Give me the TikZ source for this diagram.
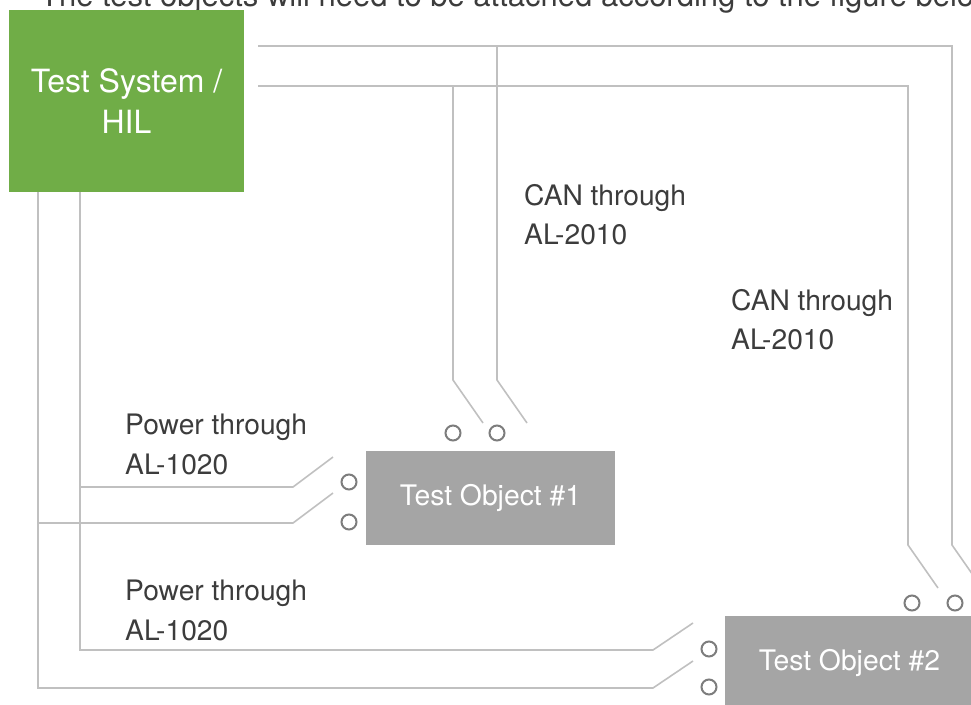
\documentclass[tikz,border=0pt]{standalone}
\usepackage{fontspec}
\setmainfont{TeX Gyre Heros}
\usepackage{xcolor}
\definecolor{Col1}{RGB}{112,173,71}
\definecolor{Col2}{RGB}{165,165,165}
\definecolor{Col3}{RGB}{192,192,192}
\definecolor{Col4}{RGB}{125,125,125}
\definecolor{Col5}{RGB}{60,60,60}
\usepackage{tikz}
\tikzstyle{Box}=[rectangle,inner sep=0pt,text=white,align=center,
font=\fontsize{28.3}{41}\selectfont]
\tikzstyle{Wire}=[draw=Col3,line width=1.6pt,line join=miter]
\tikzstyle{Socket}=[circle,draw=Col4,line width=2pt,inner sep=0pt,
minimum size=15pt]
\tikzstyle{LabelST}=[inner sep=0pt,text=Col5,align=left,anchor=north west,
font=\fontsize{28.2}{39.5}\selectfont]

\begin{document}
\begin{tikzpicture}[x=1pt,y=-1pt]
    \useasboundingbox(0,0)rectangle(971,704);
        \node[LabelST,anchor=base west,font=\fontsize{31}{36}\selectfont](title)at(40,6)
            {The test objects will need to be attached according to the figure below};
        \node[Box,fill=Col1,minimum width=235pt,minimum height=182pt,
            font=\fontsize{32}{41}\selectfont](sys)at(126.5,101){Test System /\\HIL};
        \node[Box,fill=Col2,minimum width=249pt,minimum height=94pt](obj1)at(490.5,498)
            {Test Object \#1};
        \node[Box,fill=Col2,minimum width=249pt,minimum height=94pt](obj2)at(849.5,663)
            {Test Object \#2};
        \node[Socket](1a)at(453,433){};
        \node[Socket](1b)at(497,433){};
        \node[Socket](1c)at(349,482){};
        \node[Socket](1d)at(349,522){};
        \node[Socket](2a)at(912,603){};
        \node[Socket](2b)at(955,603){};
        \node[Socket](2c)at(709,649){};
        \node[Socket](2d)at(709,687){};
        \node[LabelST](can1)at(524,184){CAN through\\AL-2010};
        \node[LabelST](can2)at(731,289){CAN through\\AL-2010};
        \node[LabelST](pow1)at(125,414){Power through\\AL-1020};
        \node[LabelST](pow2)at(125,580){Power through\\AL-1020};
        % CAN wires
        \coordinate(cA)at(258,46);
        \coordinate(cB)at(258,86);
        \coordinate(bA)at(497,46);
        \coordinate(bB)at(453,86);
        \coordinate(k2b)at(952,545);
        \coordinate(k2a)at(908,545);
        \coordinate(k1b)at(497,380);
        \coordinate(k1a)at(453,380);
        \coordinate(e2b)at(982,588);
        \coordinate(e2a)at(938,588);
        \coordinate(e1b)at(527,423);
        \coordinate(e1a)at(483,423);
        \draw[Wire](cA)-|(k2b)--(e2b);
        \draw[Wire](cB)-|(k2a)--(e2a);
        \draw[Wire](bA)--(k1b)--(e1b);
        \draw[Wire](bB)--(k1a)--(e1a);
        % power wires
        \coordinate(pA)at(80,192);
        \coordinate(pB)at(38,192);
        \coordinate(pC)at(80,375);
        \coordinate(pD)at(38,375);
        \coordinate(k1c)at(293,487);
        \coordinate(k1d)at(293,523);
        \coordinate(k2c)at(653,650);
        \coordinate(k2d)at(653,688);
        \coordinate(e1c)at(333,457);
        \coordinate(e1d)at(333,493);
        \coordinate(e2c)at(693,623);
        \coordinate(e2d)at(693,661);
        \draw[Wire](pA)|-(k1c)--(e1c);
        \draw[Wire](pB)|-(k1d)--(e1d);
        \draw[Wire](pC)|-(k2c)--(e2c);
        \draw[Wire](pD)|-(k2d)--(e2d);
    \end{tikzpicture}
\end{document}
